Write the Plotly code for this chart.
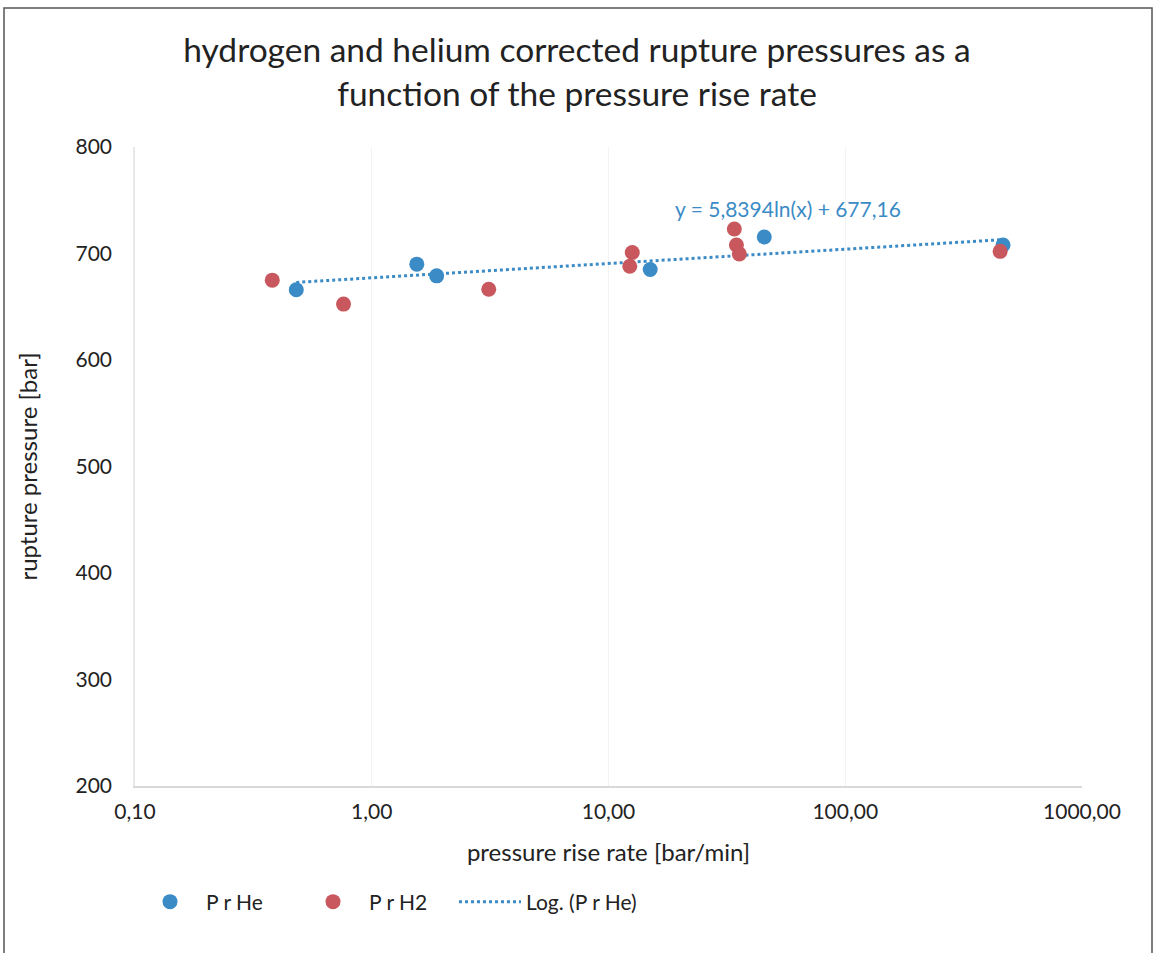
import numpy as np
import plotly.graph_objects as go

# ---- data ----
he_rate = [0.48, 1.55, 1.88, 15.0, 45.5, 464]
he_pressure = [666, 690, 679, 685, 715.5, 708]

h2_rate = [0.38, 0.76, 3.12, 12.3, 12.6, 34.0, 34.7, 35.7, 451]
h2_pressure = [675, 652.5, 666.5, 688, 701, 723, 708, 699.5, 702]

trend_coef = [5.8394, 677.16]  # y = a*ln(x) + b (Log. trendline of P r He)

x_tickvals = [0.1, 1, 10, 100, 1000]
x_ticktext = ["0,10", "1,00", "10,00", "100,00", "1000,00"]
y_tickvals = [200, 300, 400, 500, 600, 700, 800]

BLUE = "#3a8bc6"
RED = "#c8585d"
FONT = "Lato"
TXT = "#222222"

trend_x = np.logspace(np.log10(min(he_rate)), np.log10(max(he_rate)), 60)
trend_y = trend_coef[0] * np.log(trend_x) + trend_coef[1]

fig = go.Figure()
fig.add_trace(go.Scatter(x=trend_x, y=trend_y, mode="lines", name="Log. (P r He)",
                         line=dict(color=BLUE, width=3, dash="dot"), legend="legend3"))
fig.add_trace(go.Scatter(x=he_rate, y=he_pressure, mode="markers", name="P r He",
                         marker=dict(color=BLUE, size=15), legend="legend"))
fig.add_trace(go.Scatter(x=h2_rate, y=h2_pressure, mode="markers", name="P r H2",
                         marker=dict(color=RED, size=15), legend="legend2"))

W, H = 1154, 953
# plot area in page pixels
PL, PR, PT, PB = 135, 1082, 147, 786
L, R, T, B = PL, W - PR, PT, H - PB
pw, ph = W - L - R, H - T - B

def px_x(p):  # page px -> paper x
    return (p - PL) / pw

def px_y(p):  # page px -> paper y
    return (PB - p) / ph

IW = 62
leg_common = dict(orientation="h", xanchor="left", yanchor="middle", y=px_y(902),
                  font=dict(size=21, family=FONT, color=TXT), itemwidth=IW,
                  bgcolor="rgba(0,0,0,0)")

fig.update_layout(
    width=W, height=H,
    margin=dict(l=L, r=R, t=T, b=B, autoexpand=False),
    paper_bgcolor="white", plot_bgcolor="white",
    font=dict(family=FONT, color=TXT),
    title=dict(text="hydrogen and helium corrected rupture pressures as a<br>function of the pressure rise rate",
               x=577 / W, xref="container", xanchor="center",
               y=1 - 62 / H, yref="container", yanchor="middle",
               font=dict(size=33.5, family=FONT, color=TXT)),
    xaxis=dict(type="log", range=[-1, 3], tickvals=x_tickvals, ticktext=x_ticktext,
               showgrid=True, gridcolor="#f3f3f3", gridwidth=1,
               showline=True, linecolor="#d9d9d9", linewidth=1.5, ticks="",
               ticklabelstandoff=6,
               tickfont=dict(size=21, family=FONT, color=TXT),
               zeroline=False,
               title=dict(text="pressure rise rate [bar/min]", font=dict(size=24, family=FONT, color=TXT),
                          standoff=22)),
    yaxis=dict(range=[200, 800], tickvals=y_tickvals, showgrid=False,
               showline=True, linecolor="#e8e8e8", linewidth=1.5, ticks="",
               ticklabelstandoff=17,
               tickfont=dict(size=21, family=FONT, color=TXT), zeroline=False,
               title=dict(text="rupture pressure [bar]", font=dict(size=24, family=FONT, color=TXT),
                          standoff=31)),
    legend=dict(x=px_x(134), **leg_common),
    legend2=dict(x=px_x(297), **leg_common),
    legend3=dict(x=px_x(454), **leg_common),
    showlegend=True,
)

fig.add_annotation(text="y = 5,8394ln(x) + 677,16", xref="paper", yref="paper",
                   x=px_x(788), y=px_y(208), xanchor="center", yanchor="middle", showarrow=False,
                   font=dict(size=21, family=FONT, color=BLUE))

# outer chart frame
fig.add_shape(type="rect", xref="paper", yref="paper",
              x0=px_x(4), x1=px_x(1152), y0=px_y(975), y1=px_y(8),
              line=dict(color="#555555", width=1.5), fillcolor="rgba(0,0,0,0)", layer="below")

fig.write_html("out.html", config={"displayModeBar": False},
               post_script="document.body.style.margin='0';")
